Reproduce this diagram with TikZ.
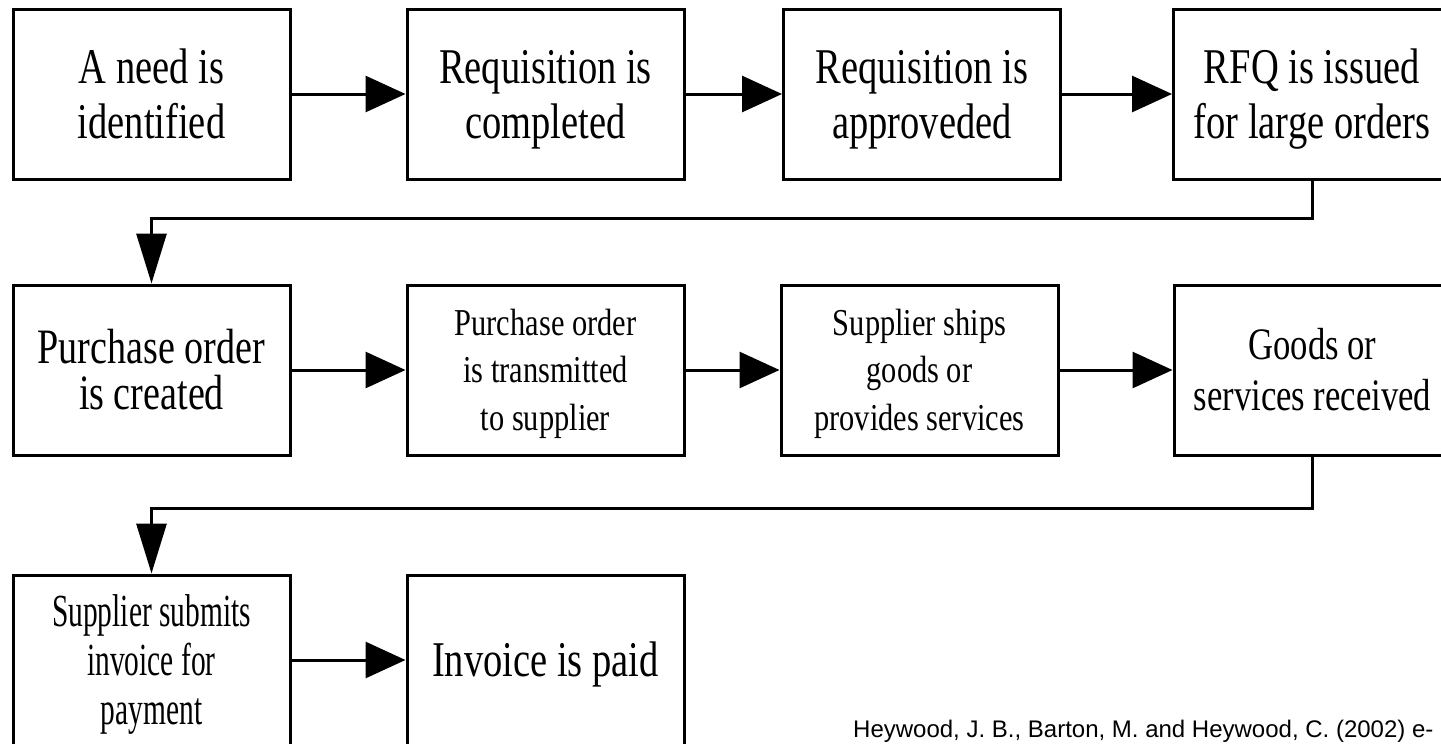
\documentclass[tikz,border=0pt]{standalone}
\usepackage{fontspec}
\usetikzlibrary{arrows.meta}
% condensed Times-like faces for the step boxes
\newfontfamily\stepserif[FakeStretch=0.77]{Liberation Serif}
\newfontfamily\stepserifwide[FakeStretch=0.80]{Liberation Serif}
\newfontfamily\stepserifnarrow[FakeStretch=0.64]{Liberation Serif}
\newfontfamily\citesans{Liberation Sans}
% one text line: cap-height strut, glyphs smashed so boxes centre on the caps
\newcommand\capline[1]{\rule{0pt}{0.66em}\smash{#1}}

\begin{document}
\begin{tikzpicture}[x=1pt,y=-1pt,
  stepbox/.style={draw, line width=3pt, rectangle, fill=white,
    minimum width=277pt, minimum height=170pt, inner sep=0pt, align=center},
  textL/.style={font=\stepserif\fontsize{50}{55}\selectfont},
  textLtight/.style={font=\stepserif\fontsize{49.5}{46}\selectfont},
  textM/.style={font=\stepserif\fontsize{45}{51}\selectfont},
  textS/.style={font=\stepserifwide\fontsize{38}{47.5}\selectfont},
  textN/.style={font=\stepserifnarrow\fontsize{46}{49}\selectfont},
  flow/.style={line width=3pt, -{Triangle[length=40pt,width=36pt]}},
  flowdown/.style={line width=3pt, -{Triangle[length=50pt,width=30pt]}},
  cite/.style={font=\citesans\fontsize{24}{28}\selectfont, inner sep=0pt}
]
\useasboundingbox (0,0) rectangle (1441,744);

% first row
\node[stepbox,textL] (need)    at (151.5,94) {\capline{A need is}\\\capline{identified}};
\node[stepbox,textL] (reqdone) at (545.5,94) {\capline{Requisition is}\\\capline{completed}};
\node[stepbox,textL] (reqok)   at (922,94)   {\capline{Requisition is}\\\capline{approveded}};
\node[stepbox,textL] (rfq)     at (1312,94)  {\capline{RFQ is issued}\\\capline{for large orders}};

% second row
\node[stepbox,textLtight] (po)   at (151.5,370) {\capline{Purchase order}\\\capline{is created}};
\node[stepbox,textS] (send)      at (545.5,370) {\capline{Purchase order}\\\capline{is transmitted}\\\capline{to supplier}};
\node[stepbox,textS] (ship)      at (919.5,370) {\capline{Supplier ships}\\\capline{goods or}\\\capline{provides services}};
\node[stepbox,textM] (received)  at (1312.5,370) {\capline{Goods or}\\\capline{services received}};

% third row
\node[stepbox,textN] (invoice) at (151.5,660) {\capline{Supplier submits}\\\capline{invoice for}\\\capline{payment}};
\node[stepbox,textL] (paid)    at (545.5,660) {\capline{Invoice is paid}};

% turning points of the row-to-row connectors
\coordinate (turnA) at (151.5,218);
\coordinate (turnB) at (151.5,508);

% connectors
\draw[flow] (need) -- (reqdone);
\draw[flow] (reqdone) -- (reqok);
\draw[flow] (reqok) -- (rfq);
\draw[flowdown] (rfq.south) |- (turnA) -- (po.north);
\draw[flow] (po) -- (send);
\draw[flow] (send) -- (ship);
\draw[flow] (ship) -- (received);
\draw[flowdown] (received.south) |- (turnB) -- (invoice.north);
\draw[flow] (invoice) -- (paid);

% source line along the lower edge
\node[cite, anchor=base west] (source) at (853,737.5) {Heywood, J. B., Barton, M. and Heywood, C. (2002) e-};
\end{tikzpicture}
\end{document}
